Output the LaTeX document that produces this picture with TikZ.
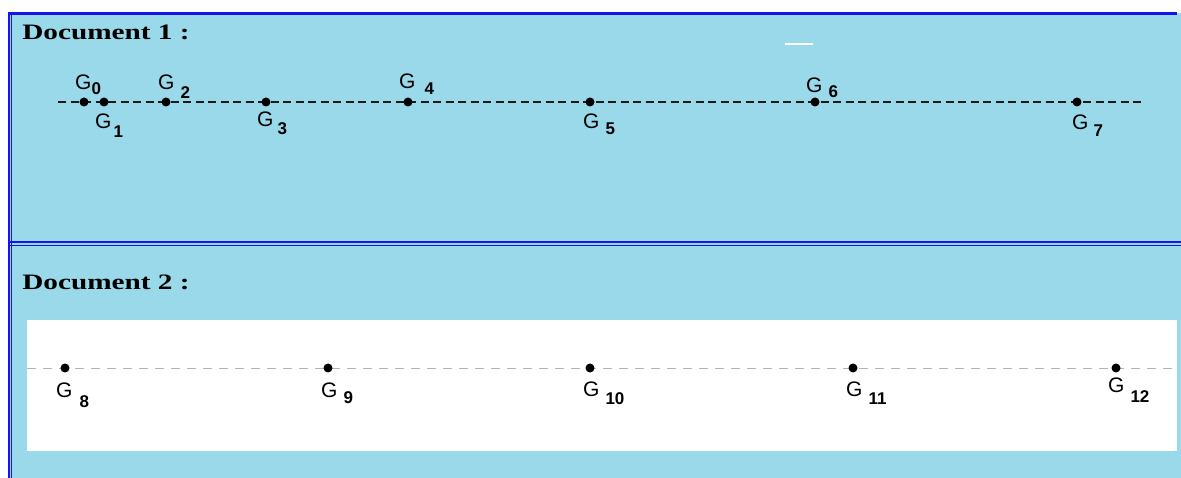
\documentclass[tikz,border=0pt]{standalone}
\usepackage{fontspec}
\setmainfont{Liberation Serif}
\newfontfamily\labfont{Liberation Sans}
\definecolor{panelblue}{RGB}{153,217,234}
\definecolor{edgeblue}{RGB}{20,20,240}
\definecolor{dashgray}{RGB}{180,180,180}
\newcommand{\glab}[3]{G\hspace{#1pt}\raisebox{-#2pt}{\fontsize{17}{17}\selectfont\bfseries #3}}
\tikzset{
  gdot/.style={circle,fill=black,inner sep=0pt,minimum size=9pt},
  glabel/.style={anchor=base west,inner sep=0pt,font=\labfont\fontsize{21}{22}\selectfont},
  doctitle/.style={anchor=base west,inner sep=0pt,font=\fontsize{22}{24}\selectfont\bfseries,xscale=1.33},
  line1/.style={line width=1.8pt,dash pattern=on 8pt off 4.5pt,black!90},
  line2/.style={line width=1pt,dash pattern=on 9pt off 7pt,dashgray}
}
\begin{document}
\begin{tikzpicture}[x=1pt,y=-1pt]
\useasboundingbox (0,0) rectangle (1181,478);
\fill[white] (0,0) rectangle (1181,478);
\fill[panelblue] (9,13) rectangle (1181,478);
% borders
\draw[edgeblue,line width=3pt] (8,13.5) -- (1177,13.5);
\draw[edgeblue,line width=1.5pt] (9,13) -- (9,478);
\draw[edgeblue,line width=1.2pt] (11.5,13) -- (11.5,478);
\draw[edgeblue,line width=1.2pt] (9,242) -- (1181,242);
\draw[edgeblue,line width=1.2pt] (9,245.5) -- (1181,245.5);
% stray white dash
\draw[white,line width=2pt] (785,44) -- (813,44);
% titles
\node[doctitle] (t1) at (22,40) {Document 1 :};
\node[doctitle] (t2) at (22,290) {Document 2 :};
% document 1
\coordinate (l1a) at (58,102);
\coordinate (l1b) at (1143,102);
\draw[line1] (l1a) -- (l1b);
\node[gdot] (g0) at (84,102) {};
\node[gdot] (g1) at (104,102) {};
\node[gdot] (g2) at (166,102) {};
\node[gdot] (g3) at (266,102) {};
\node[gdot] (g4) at (408,102) {};
\node[gdot] (g5) at (590,102) {};
\node[gdot] (g6) at (815,102) {};
\node[gdot] (g7) at (1077,102) {};
\node[glabel] (lg0) at (75,90) {\glab{0}{5}{0}};
\node[glabel] (lg1) at (95,129) {\glab{2}{9}{1}};
\node[glabel] (lg2) at (158,90) {\glab{6}{9}{2}};
\node[glabel] (lg3) at (257,127) {\glab{4}{8}{3}};
\node[glabel] (lg4) at (399,89) {\glab{9}{6}{4}};
\node[glabel] (lg5) at (583,129) {\glab{6}{6}{5}};
\node[glabel] (lg6) at (806,93) {\glab{6}{5}{6}};
\node[glabel] (lg7) at (1072,130) {\glab{5}{7}{7}};
% document 2
\fill[white] (27,320) rectangle (1177,451);
\coordinate (l2a) at (27,368);
\coordinate (l2b) at (1177,368);
\draw[line2] (l2a) -- (l2b);
\node[gdot] (g8) at (65,368) {};
\node[gdot] (g9) at (328,368) {};
\node[gdot] (g10) at (590,368) {};
\node[gdot] (g11) at (853,368) {};
\node[gdot] (g12) at (1116,368) {};
\node[glabel] (lg8) at (56,397) {\glab{7}{10}{8}};
\node[glabel] (lg9) at (321,397) {\glab{6}{6}{9}};
\node[glabel] (lg10) at (583,396) {\glab{6}{8}{10}};
\node[glabel] (lg11) at (846,396) {\glab{6}{8}{11}};
\node[glabel] (lg12) at (1108,392) {\glab{6}{10}{12}};
\end{tikzpicture}
\end{document}
